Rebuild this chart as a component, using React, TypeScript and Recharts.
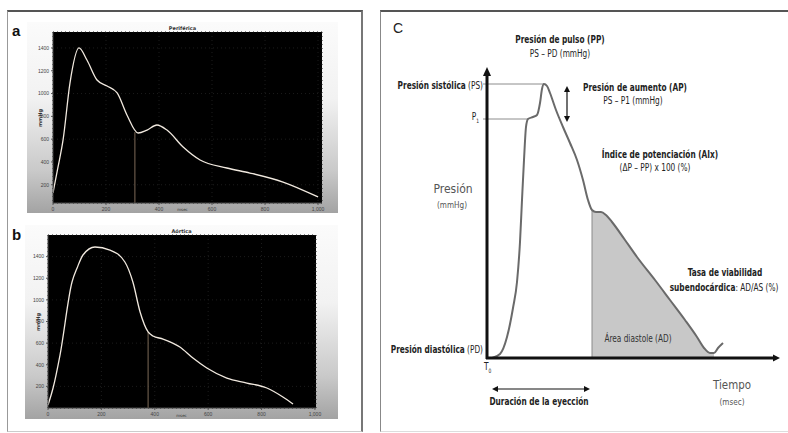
import React from 'react';
import {
  LineChart,
  Line,
  XAxis,
  YAxis,
  CartesianGrid,
  ReferenceLine,
  ReferenceDot,
  ComposedChart,
  Area,
} from 'recharts';

// ---- Panel a (peripheral wave) ----
const aTime = [0, 19, 38, 64, 98, 128, 166, 204, 242, 279, 321, 355, 392, 430, 491, 555, 656, 743, 868, 1000];
const aPressure = [128, 356, 593, 1092, 1400, 1294, 1119, 1066, 1005, 812, 654, 680, 724, 680, 531, 417, 347, 303, 224, 93];
const aNotchTime = 309;
const aNotchPressure = 662;

// ---- Panel b (aortic wave) ----
const bTime = [0, 19, 45, 90, 109, 131, 176, 232, 288, 318, 345, 375, 393, 431, 494, 543, 595, 670, 745, 820, 880, 918];
const bPressure = [28, 185, 490, 1165, 1295, 1415, 1489, 1461, 1350, 1165, 888, 703, 666, 638, 564, 462, 370, 277, 231, 185, 102, 37];
const bNotchTime = 375;
const bNotchPressure = 703;

const waveTicksX = [0, 200, 400, 600, 800, 1000];
const waveTicksY = [200, 400, 600, 800, 1000, 1200, 1400];

// ---- Panel C (schematic) ----
const cTime = [5, 13, 20, 26, 30, 33, 35, 37, 39, 41, 46, 50, 53, 55, 57, 60, 63, 69, 76, 83, 90, 96, 101, 105, 109, 114, 119, 125, 138, 150, 168, 183, 198, 210, 217, 223, 227, 231, 236];
const cPressure = [0, 4, 21, 50, 76, 116, 158, 198, 231, 239, 241, 243, 255, 269, 274, 272, 265, 248, 231, 215, 198, 178, 158, 148, 146, 146, 143, 136, 118, 101, 78, 58, 38, 21, 10, 5, 5, 10, 15];
const cShadeStart = 105;
const cShadeEnd = 227;
const cSystolic = 274;
const cP1 = 239;
const cP1Time = 41;
const cPeakTime = 57;
const cApTime = 80;
const cEjectionStart = 5;
const cEjectionEnd = 103;

const aData = aTime.map((t, i) => ({ t, p: aPressure[i] }));
const bData = bTime.map((t, i) => ({ t, p: bPressure[i] }));
const cData = cTime.map((t, i) => ({
  t,
  p: cPressure[i],
  s: t >= cShadeStart && t <= cShadeEnd ? cPressure[i] : null,
}));

const fmtX = (v: number) => (v >= 1000 ? v.toLocaleString('en-US') : String(v));

type WaveProps = {
  data: { t: number; p: number }[];
  left: number;
  top: number;
  width: number;
  height: number;
  margin: { top: number; right: number; bottom: number; left: number };
  yWidth: number;
  xHeight: number;
  xDomain: [number, number];
  yDomain: [number, number];
  notchT: number;
  notchP: number;
  title: string;
};

function Wave(props: WaveProps) {
  const { data, left, top, width, height, margin, yWidth, xHeight, xDomain, yDomain, notchT, notchP, title } = props;
  return (
    <div
      style={{
        position: 'absolute',
        left,
        top,
        width,
        height,
        background: 'linear-gradient(to bottom, #fbfbfb 0%, #f2f2f2 40%, #c9c9c9 78%, #a3a3a3 100%)',
      }}
    >
      <LineChart width={width} height={height} data={data} margin={margin}>
        <CartesianGrid fill="#000" stroke="#1c1c1c" strokeDasharray="1 3" />
        <XAxis
          type="number"
          dataKey="t"
          domain={xDomain}
          ticks={waveTicksX}
          tickFormatter={fmtX}
          height={xHeight}
          tick={{ fontSize: 5, fill: '#444' }}
          tickSize={2}
          tickLine={{ stroke: '#555' }}
          axisLine={{ stroke: '#444' }}
          allowDataOverflow
        />
        <YAxis
          type="number"
          domain={yDomain}
          ticks={waveTicksY}
          width={yWidth}
          tick={{ fontSize: 5, fill: '#444' }}
          tickSize={2}
          tickLine={{ stroke: '#555' }}
          axisLine={{ stroke: '#444' }}
          allowDataOverflow
        />
        <ReferenceLine
          segment={[
            { x: notchT, y: yDomain[0] },
            { x: notchT, y: notchP },
          ]}
          stroke="#7d6a58"
          strokeWidth={1}
        />
        <Line
          type="monotone"
          dataKey="p"
          stroke="#f1e9df"
          strokeWidth={1.3}
          dot={false}
          isAnimationActive={false}
        />
      </LineChart>
      <div
        style={{
          position: 'absolute',
          left: '50%',
          top: 3,
          transform: 'translateX(-50%)',
          fontSize: 5,
          fontWeight: 'bold',
          color: '#333',
          fontFamily: 'DejaVu Sans, sans-serif',
        }}
      >
        {title}
      </div>
      <div
        style={{
          position: 'absolute',
          left: 4,
          top: height / 2,
          transform: 'translate(0,-50%) rotate(-90deg)',
          fontSize: 5,
          fontWeight: 'bold',
          color: '#333',
          fontFamily: 'DejaVu Sans, sans-serif',
        }}
      >
        mmHg
      </div>
      <div
        style={{
          position: 'absolute',
          left: '50%',
          top: height - 6,
          transform: 'translateX(-50%)',
          fontSize: 4,
          color: '#333',
          fontFamily: 'DejaVu Sans, sans-serif',
        }}
      >
        msec
      </div>
    </div>
  );
}

const narrow = '"Liberation Sans Narrow", "DejaVu Sans Condensed", "Arial Narrow", sans-serif';

function Txt(props: {
  x: number;
  y: number;
  children: React.ReactNode;
  align?: 'center' | 'right' | 'left';
  bold?: boolean;
  size?: number;
  color?: string;
  family?: string;
  sx?: number;
}) {
  const { x, y, children, align = 'center', bold = false, size = 10, color = '#222', family = narrow, sx = 0.82 } = props;
  const tx = align === 'center' ? '-50%' : align === 'right' ? '-100%' : '0';
  const origin = align === 'center' ? 'center center' : align === 'right' ? 'right center' : 'left center';
  return (
    <div
      style={{
        position: 'absolute',
        left: x,
        top: y,
        transform: `translate(${tx}, -50%) scaleX(${sx})`,
        transformOrigin: origin,
        whiteSpace: 'nowrap',
        fontSize: size,
        fontWeight: bold ? 'bold' : 'normal',
        color,
        fontFamily: family,
        lineHeight: 1,
      }}
    >
      {children}
    </div>
  );
}

const triUp = (p: any) => (
  <polygon points={`${p.cx},${p.cy} ${p.cx - 4},${p.cy + 9} ${p.cx + 4},${p.cy + 9}`} fill="#111" />
);
const triRight = (p: any) => (
  <polygon points={`${p.cx},${p.cy} ${p.cx - 7},${p.cy - 3.5} ${p.cx - 7},${p.cy + 3.5}`} fill="#111" />
);
const smallUp = (p: any) => (
  <polygon points={`${p.cx},${p.cy} ${p.cx - 3},${p.cy + 6} ${p.cx + 3},${p.cy + 6}`} fill="#111" />
);
const smallDown = (p: any) => (
  <polygon points={`${p.cx},${p.cy} ${p.cx - 3},${p.cy - 6} ${p.cx + 3},${p.cy - 6}`} fill="#111" />
);
const smallLeft = (p: any) => (
  <polygon points={`${p.cx},${p.cy} ${p.cx + 6},${p.cy - 3} ${p.cx + 6},${p.cy + 3}`} fill="#111" />
);
const smallRight = (p: any) => (
  <polygon points={`${p.cx},${p.cy} ${p.cx - 6},${p.cy - 3} ${p.cx - 6},${p.cy + 3}`} fill="#111" />
);

function PanelC() {
  return (
    <div style={{ position: 'absolute', left: 467, top: 48, width: 320, height: 360 }}>
      <ComposedChart width={320} height={360} data={cData} margin={{ top: 10, right: 0, bottom: 50, left: 20 }}>
        <XAxis type="number" dataKey="t" domain={[0, 300]} hide />
        <YAxis type="number" domain={[0, 300]} hide />
        <Area
          type="monotone"
          dataKey="s"
          fill="#c8c8c8"
          fillOpacity={1}
          stroke="none"
          isAnimationActive={false}
        />
        <ReferenceLine
          segment={[
            { x: cShadeStart, y: 0 },
            { x: cShadeStart, y: 148 },
          ]}
          stroke="#8a8a8a"
          strokeWidth={1}
        />
        <ReferenceLine
          segment={[
            { x: -4, y: cSystolic },
            { x: cPeakTime, y: cSystolic },
          ]}
          stroke="#8c8c8c"
          strokeWidth={1}
          ifOverflow="visible"
        />
        <ReferenceLine
          segment={[
            { x: -4, y: cP1 },
            { x: cP1Time, y: cP1 },
          ]}
          stroke="#8c8c8c"
          strokeWidth={1}
          ifOverflow="visible"
        />
        <Line
          type="monotone"
          dataKey="p"
          stroke="#6a6a6a"
          strokeWidth={2}
          dot={false}
          isAnimationActive={false}
        />
        {/* axes */}
        <ReferenceLine
          segment={[
            { x: 0, y: -1 },
            { x: 0, y: 284 },
          ]}
          stroke="#111"
          strokeWidth={3}
          ifOverflow="visible"
        />
        <ReferenceLine
          segment={[
            { x: -1, y: 0 },
            { x: 287, y: 0 },
          ]}
          stroke="#111"
          strokeWidth={3}
          ifOverflow="visible"
        />
        <ReferenceDot x={0} y={291} shape={triUp} ifOverflow="visible" />
        <ReferenceDot x={293} y={0} shape={triRight} ifOverflow="visible" />
        {/* AP arrow */}
        <ReferenceLine
          segment={[
            { x: cApTime, y: 240 },
            { x: cApTime, y: 268 },
          ]}
          stroke="#111"
          strokeWidth={1.2}
        />
        <ReferenceDot x={cApTime} y={272} shape={smallUp} ifOverflow="visible" />
        <ReferenceDot x={cApTime} y={236} shape={smallDown} ifOverflow="visible" />
        {/* ejection duration arrow */}
        <ReferenceLine
          segment={[
            { x: cEjectionStart + 3, y: -31 },
            { x: cEjectionEnd - 3, y: -31 },
          ]}
          stroke="#111"
          strokeWidth={1.2}
          ifOverflow="visible"
        />
        <ReferenceDot x={cEjectionStart} y={-31} shape={smallLeft} ifOverflow="visible" />
        <ReferenceDot x={cEjectionEnd} y={-31} shape={smallRight} ifOverflow="visible" />
      </ComposedChart>
    </div>
  );
}

export default function App() {
  return (
    <div
      style={{
        position: 'absolute',
        left: 0,
        top: 0,
        width: 788,
        height: 433,
        background: '#fff',
        overflow: 'hidden',
        fontFamily: 'Liberation Sans, sans-serif',
      }}
    >
      {/* frames */}
      <div
        style={{
          position: 'absolute',
          left: 7,
          top: 10,
          width: 353,
          height: 419,
          borderTop: '2px solid #555',
          borderLeft: '1px solid #999',
          borderRight: '2px solid #777',
          borderBottom: '1px solid #ccc',
        }}
      />
      <div
        style={{
          position: 'absolute',
          left: 380,
          top: 10,
          width: 410,
          height: 419,
          borderTop: '2px solid #555',
          borderLeft: '1px solid #888',
          borderBottom: '1px solid #ddd',
        }}
      />

      <Wave
        data={aData}
        left={27}
        top={22}
        width={311}
        height={191}
        margin={{ top: 10, right: 16, bottom: 0, left: 0 }}
        yWidth={26}
        xHeight={10}
        xDomain={[0, 1015]}
        yDomain={[40, 1540]}
        notchT={aNotchTime}
        notchP={aNotchPressure}
        title="Periférica"
      />
      <Wave
        data={bData}
        left={25}
        top={225}
        width={313}
        height={194}
        margin={{ top: 10, right: 22, bottom: 0, left: 0 }}
        yWidth={23}
        xHeight={11}
        xDomain={[0, 1004]}
        yDomain={[0, 1600]}
        notchT={bNotchTime}
        notchP={bNotchPressure}
        title="Aórtica"
      />

      <Txt x={12} y={30} align="left" bold size={15} family="Liberation Sans, sans-serif" color="#111" sx={1}>a</Txt>
      <Txt x={12} y={234} align="left" bold size={15} family="Liberation Sans, sans-serif" color="#111" sx={1}>b</Txt>
      <Txt x={393} y={28} align="left" size={14} family="Liberation Sans, sans-serif" color="#222" sx={1}>C</Txt>

      <PanelC />

      <Txt x={560} y={40} bold>Presión de pulso (PP)</Txt>
      <Txt x={560} y={54}>PS – PD (mmHg)</Txt>
      <Txt x={483} y={86} align="right">
        <b>Presión sistólica</b> (PS)
      </Txt>
      <Txt x={479} y={118} align="right">
        P<sub style={{ fontSize: 6 }}>1</sub>
      </Txt>
      <Txt x={635} y={88} bold>Presión de aumento (AP)</Txt>
      <Txt x={633} y={101}>PS – P1 (mmHg)</Txt>
      <Txt x={660} y={155} bold>Índice de potenciación (AIx)</Txt>
      <Txt x={655} y={168}>(ΔP – PP) x 100 (%)</Txt>
      <Txt x={453} y={189} size={12} color="#555" sx={1}>Presión</Txt>
      <Txt x={452} y={205} size={9} color="#555" sx={0.9}>(mmHg)</Txt>
      <Txt x={725} y={273} bold>Tasa de viabilidad</Txt>
      <Txt x={724} y={288}>
        <b>subendocárdica</b>: AD/AS (%)
      </Txt>
      <Txt x={638} y={339} color="#333">Área diastole (AD)</Txt>
      <Txt x={483} y={350} align="right">
        <b>Presión diastólica</b> (PD)
      </Txt>
      <Txt x={484} y={368} align="left">
        T<sub style={{ fontSize: 6 }}>0</sub>
      </Txt>
      <Txt x={732} y={385} size={12} color="#555" sx={0.95}>Tiempo</Txt>
      <Txt x={732} y={402} size={9} color="#555" sx={0.9}>(msec)</Txt>
      <Txt x={539} y={402} bold>Duración de la eyección</Txt>
    </div>
  );
}
